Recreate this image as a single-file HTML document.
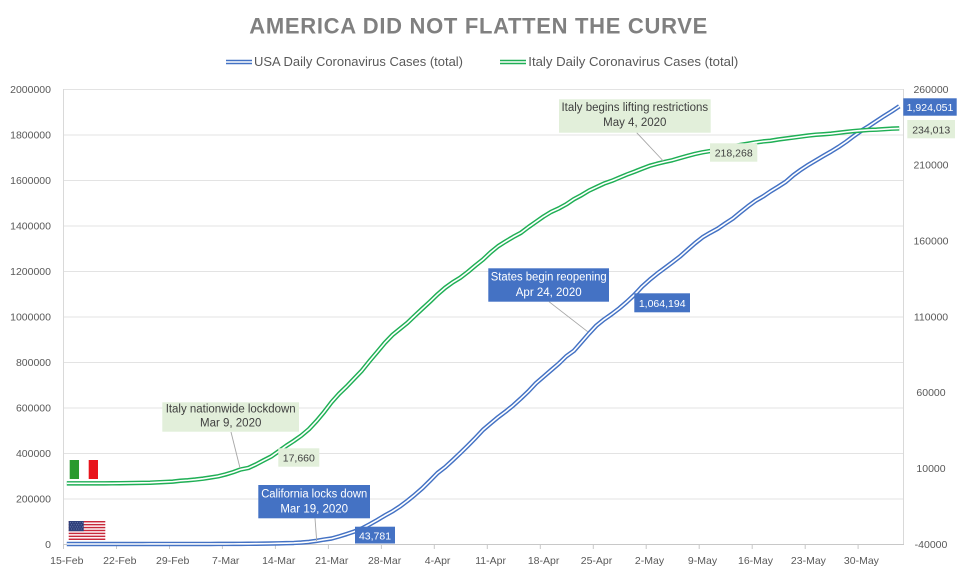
<!DOCTYPE html>
<html>
<head>
<meta charset="utf-8">
<style>
  html,body{margin:0;padding:0;background:#fff;}
  svg{display:block;}
  text{font-family:"Liberation Sans",Arial,sans-serif;}
</style>
</head>
<body>
<svg width="960" height="576" viewBox="0 0 960 576" xmlns="http://www.w3.org/2000/svg">
  <rect x="0" y="0" width="960" height="576" fill="#ffffff"/>

  <!-- Title -->
  <text x="478.3" y="33.3" text-anchor="middle" font-size="22" font-weight="bold" fill="#808080" textLength="458" lengthAdjust="spacing">AMERICA DID NOT FLATTEN THE CURVE</text>

  <!-- Legend -->
  <line x1="226" y1="62" x2="252" y2="62" stroke="#4472C4" stroke-width="4.5"/>
  <line x1="226" y1="62" x2="252" y2="62" stroke="#ffffff" stroke-width="1.6"/>
  <text x="254" y="66" font-size="12.5" fill="#595959" textLength="209" lengthAdjust="spacingAndGlyphs">USA Daily Coronavirus Cases (total)</text>
  <line x1="500" y1="62" x2="526" y2="62" stroke="#1FAF55" stroke-width="4.5"/>
  <line x1="500" y1="62" x2="526" y2="62" stroke="#ffffff" stroke-width="1.6"/>
  <text x="528.3" y="66" font-size="12.5" fill="#595959" textLength="210" lengthAdjust="spacingAndGlyphs">Italy Daily Coronavirus Cases (total)</text>

  <!-- Gridlines -->
  <g stroke="#E3E3E3" stroke-width="1">
    <line x1="63" y1="89.5" x2="903" y2="89.5"/>
    <line x1="63" y1="135" x2="903" y2="135"/>
    <line x1="63" y1="180.5" x2="903" y2="180.5"/>
    <line x1="63" y1="226" x2="903" y2="226"/>
    <line x1="63" y1="271.5" x2="903" y2="271.5"/>
    <line x1="63" y1="317" x2="903" y2="317"/>
    <line x1="63" y1="362.5" x2="903" y2="362.5"/>
    <line x1="63" y1="408" x2="903" y2="408"/>
    <line x1="63" y1="453.5" x2="903" y2="453.5"/>
    <line x1="63" y1="499" x2="903" y2="499"/>
  </g>
  <!-- Axes -->
  <line x1="63.5" y1="89" x2="63.5" y2="544" stroke="#D9D9D9" stroke-width="1"/>
  <line x1="903.5" y1="89" x2="903.5" y2="544" stroke="#D9D9D9" stroke-width="1"/>
  <line x1="63" y1="544.5" x2="904" y2="544.5" stroke="#C8C8C8" stroke-width="1"/>
  <!-- X ticks -->
  <g stroke="#C8C8C8" stroke-width="1">
    <line x1="63.5" y1="544" x2="63.5" y2="549"/>
    <line x1="116.5" y1="544" x2="116.5" y2="549"/>
    <line x1="169.5" y1="544" x2="169.5" y2="549"/>
    <line x1="222.4" y1="544" x2="222.4" y2="549"/>
    <line x1="275.4" y1="544" x2="275.4" y2="549"/>
    <line x1="328.4" y1="544" x2="328.4" y2="549"/>
    <line x1="381.4" y1="544" x2="381.4" y2="549"/>
    <line x1="434.3" y1="544" x2="434.3" y2="549"/>
    <line x1="487.3" y1="544" x2="487.3" y2="549"/>
    <line x1="540.3" y1="544" x2="540.3" y2="549"/>
    <line x1="593.3" y1="544" x2="593.3" y2="549"/>
    <line x1="646.2" y1="544" x2="646.2" y2="549"/>
    <line x1="699.2" y1="544" x2="699.2" y2="549"/>
    <line x1="752.2" y1="544" x2="752.2" y2="549"/>
    <line x1="805.2" y1="544" x2="805.2" y2="549"/>
    <line x1="858.1" y1="544" x2="858.1" y2="549"/>
  </g>

  <!-- Left axis labels -->
  <g font-size="10.5" fill="#595959" text-anchor="end">
    <text x="51" y="92.8">2000000</text>
    <text x="51" y="138.3">1800000</text>
    <text x="51" y="183.8">1600000</text>
    <text x="51" y="229.3">1400000</text>
    <text x="51" y="274.8">1200000</text>
    <text x="51" y="320.3">1000000</text>
    <text x="51" y="365.8">800000</text>
    <text x="51" y="411.3">600000</text>
    <text x="51" y="456.8">400000</text>
    <text x="51" y="502.3">200000</text>
    <text x="51" y="547.8">0</text>
  </g>
  <!-- Right axis labels -->
  <g font-size="10.5" fill="#595959" text-anchor="middle">
    <text x="931" y="92.8">260000</text>
    <text x="931" y="168.6">210000</text>
    <text x="931" y="244.5">160000</text>
    <text x="931" y="320.3">110000</text>
    <text x="931" y="396.1">60000</text>
    <text x="931" y="472">10000</text>
    <text x="931" y="547.8">-40000</text>
  </g>
  <!-- X labels -->
  <g font-size="10.5" fill="#595959" text-anchor="middle">
    <text x="66.8" y="563.8">15-Feb</text>
    <text x="119.8" y="563.8">22-Feb</text>
    <text x="172.7" y="563.8">29-Feb</text>
    <text x="225.7" y="563.8">7-Mar</text>
    <text x="278.7" y="563.8">14-Mar</text>
    <text x="331.7" y="563.8">21-Mar</text>
    <text x="384.6" y="563.8">28-Mar</text>
    <text x="437.6" y="563.8">4-Apr</text>
    <text x="490.6" y="563.8">11-Apr</text>
    <text x="543.6" y="563.8">18-Apr</text>
    <text x="596.5" y="563.8">25-Apr</text>
    <text x="649.5" y="563.8">2-May</text>
    <text x="702.5" y="563.8">9-May</text>
    <text x="755.5" y="563.8">16-May</text>
    <text x="808.4" y="563.8">23-May</text>
    <text x="861.4" y="563.8">30-May</text>
  </g>

  <!-- USA series (primary axis) -->
  <g transform="translate(63 544) scale(7.568 -0.0002275)" fill="none" stroke-linejoin="round" stroke-linecap="butt">
    <polyline id="usa" vector-effect="non-scaling-stroke" stroke="#4472C4" stroke-width="4.5" points="0.5,15 1.5,15 2.5,15 3.5,15 4.5,15 5.5,15 6.5,35 7.5,35 8.5,35 9.5,53 10.5,53 11.5,59 12.5,60 13.5,62 14.5,68 15.5,75 16.5,100 17.5,124 18.5,158 19.5,221 20.5,319 21.5,435 22.5,541 23.5,704 24.5,994 25.5,1301 26.5,1697 27.5,2247 28.5,2943 29.5,3680 30.5,4663 31.5,6411 32.5,9259 33.5,13789 34.5,19383 35.5,24207 36.5,33566 37.5,43781 38.5,54856 39.5,68211 40.5,85991 41.5,104839 42.5,124686 43.5,143055 44.5,164620 45.5,189618 46.5,216722 47.5,245601 48.5,278458 49.5,312245 50.5,337933 51.5,368449 52.5,399929 53.5,432438 54.5,466299 55.5,501615 56.5,530006 57.5,557571 58.5,582594 59.5,609516 60.5,639664 61.5,671331 62.5,706779 63.5,735366 64.5,764265 65.5,792759 66.5,825041 67.5,849094 68.5,886709 69.5,925038 70.5,960651 71.5,987160 72.5,1010356 73.5,1035765 74.5,1064194 75.5,1095304 76.5,1131030 77.5,1160774 78.5,1188122 79.5,1212835 80.5,1237633 81.5,1263092 82.5,1292623 83.5,1321785 84.5,1347881 85.5,1367638 86.5,1385834 87.5,1408636 88.5,1430348 89.5,1457593 90.5,1484285 91.5,1508308 92.5,1527664 93.5,1550294 94.5,1570583 95.5,1591991 96.5,1620902 97.5,1645094 98.5,1666828 99.5,1686436 100.5,1706226 101.5,1725275 102.5,1745803 103.5,1768461 104.5,1793530 105.5,1816820 106.5,1837170 107.5,1859323 108.5,1881205 109.5,1901783 110.5,1924051"/>
    <polyline vector-effect="non-scaling-stroke" stroke="#ffffff" stroke-width="1.6" points="0.5,15 1.5,15 2.5,15 3.5,15 4.5,15 5.5,15 6.5,35 7.5,35 8.5,35 9.5,53 10.5,53 11.5,59 12.5,60 13.5,62 14.5,68 15.5,75 16.5,100 17.5,124 18.5,158 19.5,221 20.5,319 21.5,435 22.5,541 23.5,704 24.5,994 25.5,1301 26.5,1697 27.5,2247 28.5,2943 29.5,3680 30.5,4663 31.5,6411 32.5,9259 33.5,13789 34.5,19383 35.5,24207 36.5,33566 37.5,43781 38.5,54856 39.5,68211 40.5,85991 41.5,104839 42.5,124686 43.5,143055 44.5,164620 45.5,189618 46.5,216722 47.5,245601 48.5,278458 49.5,312245 50.5,337933 51.5,368449 52.5,399929 53.5,432438 54.5,466299 55.5,501615 56.5,530006 57.5,557571 58.5,582594 59.5,609516 60.5,639664 61.5,671331 62.5,706779 63.5,735366 64.5,764265 65.5,792759 66.5,825041 67.5,849094 68.5,886709 69.5,925038 70.5,960651 71.5,987160 72.5,1010356 73.5,1035765 74.5,1064194 75.5,1095304 76.5,1131030 77.5,1160774 78.5,1188122 79.5,1212835 80.5,1237633 81.5,1263092 82.5,1292623 83.5,1321785 84.5,1347881 85.5,1367638 86.5,1385834 87.5,1408636 88.5,1430348 89.5,1457593 90.5,1484285 91.5,1508308 92.5,1527664 93.5,1550294 94.5,1570583 95.5,1591991 96.5,1620902 97.5,1645094 98.5,1666828 99.5,1686436 100.5,1706226 101.5,1725275 102.5,1745803 103.5,1768461 104.5,1793530 105.5,1816820 106.5,1837170 107.5,1859323 108.5,1881205 109.5,1901783 110.5,1924051"/>
  </g>

  <!-- Italy series (secondary axis) -->
  <g transform="translate(63 544) scale(7.568 -0.00151667) translate(0 40000)" fill="none" stroke-linejoin="round" stroke-linecap="butt">
    <polyline vector-effect="non-scaling-stroke" stroke="#1FAF55" stroke-width="4.5" points="0.5,3 1.5,3 2.5,3 3.5,3 4.5,3 5.5,3 6.5,20 7.5,79 8.5,150 9.5,229 10.5,322 11.5,400 12.5,650 13.5,888 14.5,1128 15.5,1694 16.5,2036 17.5,2502 18.5,3089 19.5,3858 20.5,4636 21.5,5883 22.5,7375 23.5,9172 24.5,10149 25.5,12462 26.5,15113 27.5,17660 28.5,21157 29.5,24747 30.5,27980 31.5,31506 32.5,35713 33.5,41035 34.5,47021 35.5,53578 36.5,59138 37.5,63927 38.5,69176 39.5,74386 40.5,80589 41.5,86498 42.5,92472 43.5,97689 44.5,101739 45.5,105792 46.5,110574 47.5,115242 48.5,119827 49.5,124632 50.5,128948 51.5,132547 52.5,135586 53.5,139422 54.5,143626 55.5,147577 56.5,152271 57.5,156363 58.5,159516 59.5,162488 60.5,165155 61.5,168941 62.5,172434 63.5,175925 64.5,178972 65.5,181228 66.5,183957 67.5,187327 68.5,189973 69.5,192994 70.5,195351 71.5,197675 72.5,199414 73.5,201505 74.5,203591 75.5,205463 76.5,207428 77.5,209328 78.5,210717 79.5,211938 80.5,213013 81.5,214457 82.5,215858 83.5,217185 84.5,218268 85.5,219070 86.5,219814 87.5,221216 88.5,222104 89.5,223096 90.5,223885 91.5,224760 92.5,225435 93.5,225886 94.5,226699 95.5,227364 96.5,228006 97.5,228658 98.5,229327 99.5,229858 100.5,230158 101.5,230555 102.5,231139 103.5,231732 104.5,232248 105.5,232664 106.5,233019 107.5,233197 108.5,233515 109.5,233836 110.5,234013"/>
    <polyline vector-effect="non-scaling-stroke" stroke="#ffffff" stroke-width="1.6" points="0.5,3 1.5,3 2.5,3 3.5,3 4.5,3 5.5,3 6.5,20 7.5,79 8.5,150 9.5,229 10.5,322 11.5,400 12.5,650 13.5,888 14.5,1128 15.5,1694 16.5,2036 17.5,2502 18.5,3089 19.5,3858 20.5,4636 21.5,5883 22.5,7375 23.5,9172 24.5,10149 25.5,12462 26.5,15113 27.5,17660 28.5,21157 29.5,24747 30.5,27980 31.5,31506 32.5,35713 33.5,41035 34.5,47021 35.5,53578 36.5,59138 37.5,63927 38.5,69176 39.5,74386 40.5,80589 41.5,86498 42.5,92472 43.5,97689 44.5,101739 45.5,105792 46.5,110574 47.5,115242 48.5,119827 49.5,124632 50.5,128948 51.5,132547 52.5,135586 53.5,139422 54.5,143626 55.5,147577 56.5,152271 57.5,156363 58.5,159516 59.5,162488 60.5,165155 61.5,168941 62.5,172434 63.5,175925 64.5,178972 65.5,181228 66.5,183957 67.5,187327 68.5,189973 69.5,192994 70.5,195351 71.5,197675 72.5,199414 73.5,201505 74.5,203591 75.5,205463 76.5,207428 77.5,209328 78.5,210717 79.5,211938 80.5,213013 81.5,214457 82.5,215858 83.5,217185 84.5,218268 85.5,219070 86.5,219814 87.5,221216 88.5,222104 89.5,223096 90.5,223885 91.5,224760 92.5,225435 93.5,225886 94.5,226699 95.5,227364 96.5,228006 97.5,228658 98.5,229327 99.5,229858 100.5,230158 101.5,230555 102.5,231139 103.5,231732 104.5,232248 105.5,232664 106.5,233019 107.5,233197 108.5,233515 109.5,233836 110.5,234013"/>
  </g>

  <!-- Leader lines -->
  <g stroke="#A6A6A6" stroke-width="0.9">
    <line x1="231" y1="432" x2="240" y2="468"/>
    <line x1="636.7" y1="132.7" x2="663.3" y2="161"/>
    <line x1="549" y1="301.7" x2="587.7" y2="331.7"/>
    <line x1="315" y1="518.3" x2="316.7" y2="541"/>
  </g>

  <!-- Italy lockdown callout -->
  <rect x="162.3" y="402.3" width="136.7" height="29.4" fill="#E2EFDA"/>
  <text x="230.7" y="412.3" font-size="11.5" fill="#404040" text-anchor="middle" textLength="130" lengthAdjust="spacingAndGlyphs">Italy nationwide lockdown</text>
  <text x="230.7" y="426.6" font-size="11.5" fill="#404040" text-anchor="middle">Mar 9, 2020</text>

  <rect x="278.3" y="448.3" width="41" height="18.4" fill="#E2EFDA"/>
  <text x="298.8" y="461.5" font-size="10.5" fill="#404040" text-anchor="middle">17,660</text>

  <!-- Italy lifting callout -->
  <rect x="559" y="99.3" width="151.7" height="33.4" fill="#E2EFDA"/>
  <text x="634.8" y="111.2" font-size="11.5" fill="#404040" text-anchor="middle" textLength="146.6" lengthAdjust="spacingAndGlyphs">Italy begins lifting restrictions</text>
  <text x="634.8" y="126" font-size="11.5" fill="#404040" text-anchor="middle">May 4, 2020</text>

  <rect x="710" y="143.3" width="47.3" height="18.4" fill="#E2EFDA"/>
  <text x="733.7" y="156.5" font-size="10.5" fill="#404040" text-anchor="middle">218,268</text>

  <!-- States reopening callout -->
  <rect x="488.3" y="268.3" width="120.7" height="33.4" fill="#4472C4"/>
  <text x="548.7" y="280.7" font-size="11.5" fill="#ffffff" text-anchor="middle" textLength="116" lengthAdjust="spacingAndGlyphs">States begin reopening</text>
  <text x="548.7" y="296" font-size="11.5" fill="#ffffff" text-anchor="middle">Apr 24, 2020</text>

  <rect x="634.3" y="293.3" width="55.7" height="19" fill="#4472C4"/>
  <text x="662.2" y="306.8" font-size="10.5" fill="#ffffff" text-anchor="middle">1,064,194</text>

  <!-- California callout -->
  <rect x="258.3" y="485" width="111.7" height="33.3" fill="#4472C4"/>
  <text x="314.2" y="497.7" font-size="11.5" fill="#ffffff" text-anchor="middle" textLength="106" lengthAdjust="spacingAndGlyphs">California locks down</text>
  <text x="314.2" y="512.7" font-size="11.5" fill="#ffffff" text-anchor="middle">Mar 19, 2020</text>

  <rect x="355" y="526.7" width="40" height="16.8" fill="#4472C4"/>
  <text x="375" y="539.3" font-size="10.5" fill="#ffffff" text-anchor="middle">43,781</text>

  <!-- End labels -->
  <rect x="903.3" y="98.3" width="53.4" height="17.4" fill="#4472C4"/>
  <text x="930" y="111.2" font-size="10.5" fill="#ffffff" text-anchor="middle">1,924,051</text>
  <rect x="907.3" y="120" width="47.7" height="18.3" fill="#E2EFDA"/>
  <text x="931.2" y="133.4" font-size="10.5" fill="#404040" text-anchor="middle">234,013</text>

  <!-- Italy flag -->
  <rect x="69.7" y="460" width="9.4" height="19" fill="#2A9A2E"/>
  <rect x="79.1" y="460" width="9.6" height="19" fill="#ffffff"/>
  <rect x="88.7" y="460" width="9.3" height="19" fill="#E8141C"/>

  <!-- USA flag -->
  <g>
    <rect x="68.7" y="521" width="36.6" height="19" fill="#ffffff"/>
    <rect x="68.7" y="521" width="36.6" height="1.46" fill="#C8283A"/>
    <rect x="68.7" y="523.92" width="36.6" height="1.46" fill="#C8283A"/>
    <rect x="68.7" y="526.84" width="36.6" height="1.46" fill="#C8283A"/>
    <rect x="68.7" y="529.76" width="36.6" height="1.46" fill="#C8283A"/>
    <rect x="68.7" y="532.68" width="36.6" height="1.46" fill="#C8283A"/>
    <rect x="68.7" y="535.6" width="36.6" height="1.46" fill="#C8283A"/>
    <rect x="68.7" y="538.52" width="36.6" height="1.48" fill="#C8283A"/>
    <rect x="68.7" y="521" width="15" height="10.2" fill="#2E3F7A"/>
    <g fill="#8A9BC8">
      <rect x="70" y="522.3" width="0.8" height="0.8"/><rect x="72.4" y="522.3" width="0.8" height="0.8"/><rect x="74.8" y="522.3" width="0.8" height="0.8"/><rect x="77.2" y="522.3" width="0.8" height="0.8"/><rect x="79.6" y="522.3" width="0.8" height="0.8"/><rect x="82" y="522.3" width="0.8" height="0.8"/>
      <rect x="71.2" y="524.4" width="0.8" height="0.8"/><rect x="73.6" y="524.4" width="0.8" height="0.8"/><rect x="76" y="524.4" width="0.8" height="0.8"/><rect x="78.4" y="524.4" width="0.8" height="0.8"/><rect x="80.8" y="524.4" width="0.8" height="0.8"/>
      <rect x="70" y="526.5" width="0.8" height="0.8"/><rect x="72.4" y="526.5" width="0.8" height="0.8"/><rect x="74.8" y="526.5" width="0.8" height="0.8"/><rect x="77.2" y="526.5" width="0.8" height="0.8"/><rect x="79.6" y="526.5" width="0.8" height="0.8"/><rect x="82" y="526.5" width="0.8" height="0.8"/>
      <rect x="71.2" y="528.6" width="0.8" height="0.8"/><rect x="73.6" y="528.6" width="0.8" height="0.8"/><rect x="76" y="528.6" width="0.8" height="0.8"/><rect x="78.4" y="528.6" width="0.8" height="0.8"/><rect x="80.8" y="528.6" width="0.8" height="0.8"/>
    </g>
  </g>
</svg>
</body>
</html>
